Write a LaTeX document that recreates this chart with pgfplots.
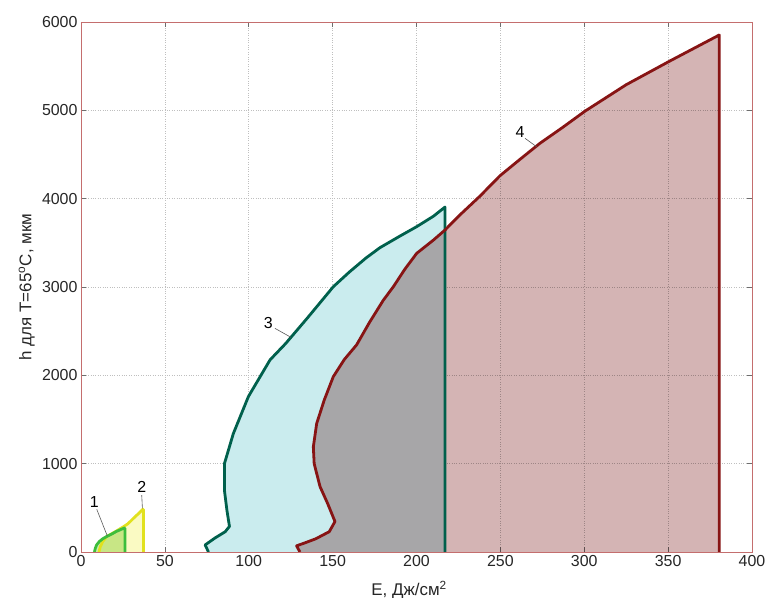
\documentclass[border=0pt]{standalone}
\usepackage{pgfplots}
\pgfplotsset{compat=1.18}
\usepackage{fontspec}
\setmainfont{Liberation Sans}
\definecolor{framered}{RGB}{196,110,110}
\definecolor{tickgray}{RGB}{110,110,110}
\definecolor{lineA}{RGB}{60,190,60}
\definecolor{fillA}{RGB}{205,235,175}
\definecolor{lineB}{RGB}{225,225,30}
\definecolor{fillB}{RGB}{250,250,195}
\definecolor{lineC}{RGB}{0,96,76}
\definecolor{fillC}{RGB}{202,236,238}
\definecolor{lineD}{RGB}{135,20,20}
\definecolor{fillD}{RGB}{212,180,180}
\pgfplotstableread{
x y
8 0
8.5 40
9.3 80
11 120
13 150
15.3 175
18 200
21 232
25.6 270
26.2 270
26.2 0
}\curveA
\pgfplotstableread{
x y
10.7 0
11.5 60
13 120
15.3 175
20 225
25.4 287
28 320
31.2 380
34 430
36.8 483
37.2 483
37.2 0
}\curveB
\pgfplotstableread{
x y
76 0
74 80
80 160
86 230
88.5 290
87 470
85.5 700
85.5 1000
90.8 1340
99.8 1760
112.7 2175
122 2360
135 2650
150.4 3003
160 3170
170 3330
178.2 3445
190 3575
200.1 3683
210 3800
217 3905
217 0
}\curveC
\pgfplotstableread{
x y
130.5 0
128.5 70
133 100
140 150
148 230
151.4 345
147 550
142.5 740
139 1000
138.5 1190
140.5 1455
145 1720
150.4 1985
157 2180
164.3 2345
172 2600
180.2 2850
186.2 3003
193 3200
200.1 3381
210 3530
217 3645
225 3800
237.9 4030
249.8 4260
262 4450
273.6 4627
287 4805
300.4 4990
325 5290
351 5558
380.5 5853
380.5 0
}\curveD
\begin{document}
\begin{tikzpicture}
\path[use as bounding box] (-81bp,-46bp) rectangle (689bp,552bp);
\begin{axis}[
  scale only axis, width=671bp, height=530bp,
  xmin=0, xmax=400, ymin=0, ymax=6000,
  xtick={0,50,...,400}, ytick={0,1000,...,6000},
  grid=major, grid style={dotted, line width=0.7bp, gray!50},
  axis line style={color=framered, line width=0.8bp},
  tick style={color=tickgray, line width=0.6bp},
  tick align=inside, major tick length=5bp,
  ticklabel style={font=\fontsize{16}{18}\selectfont, text=black!85},
  /pgf/number format/assume math mode=true,
  /pgf/number format/set thousands separator={},
  xlabel={E, Дж/см\textsuperscript{2}},
  ylabel={h для T=65\textsuperscript{o}C, мкм},
  xlabel style={font=\fontsize{17}{19}\selectfont, text=black!85, at={(axis description cs:0.489,-0.082)}, anchor=base},
  ylabel style={font=\fontsize{17}{19}\selectfont, text=black!85, at={(axis description cs:-0.074,0.5)}, anchor=base},
]
\addplot[draw=none, fill=fillC] table {\curveC} -- cycle;
\addplot[draw=none, fill=fillD, blend mode=multiply] table {\curveD} -- cycle;
\addplot[draw=none, fill=fillB] table {\curveB} -- cycle;
\addplot[draw=none, fill=fillA, blend mode=multiply] table {\curveA} -- cycle;
\addplot[lineC, line width=2.8bp, line join=round] table {\curveC};
\addplot[lineD, line width=2.8bp, line join=round] table {\curveD};
\addplot[lineB, line width=2.8bp, line join=round] table {\curveB};
\addplot[lineA, line width=2.8bp, line join=round] table {\curveA};
\draw[gray!70!black, line width=0.6bp] (axis cs:9.4,483) -- (axis cs:15.7,181);
\node[font=\fontsize{16}{18}\selectfont] at (axis cs:7.9,570) {1};
\draw[gray!70!black, line width=0.6bp] (axis cs:36.2,645) -- (axis cs:36.6,495);
\node[font=\fontsize{16}{18}\selectfont] at (axis cs:36.2,740) {2};
\draw[gray!70!black, line width=0.6bp] (axis cs:115.6,2532) -- (axis cs:125.2,2430);
\node[font=\fontsize{16}{18}\selectfont] at (axis cs:111.7,2590) {3};
\draw[gray!70!black, line width=0.6bp] (axis cs:264.7,4683) -- (axis cs:271.6,4588);
\node[font=\fontsize{16}{18}\selectfont] at (axis cs:261.7,4758) {4};
\end{axis}
\end{tikzpicture}
\end{document}
